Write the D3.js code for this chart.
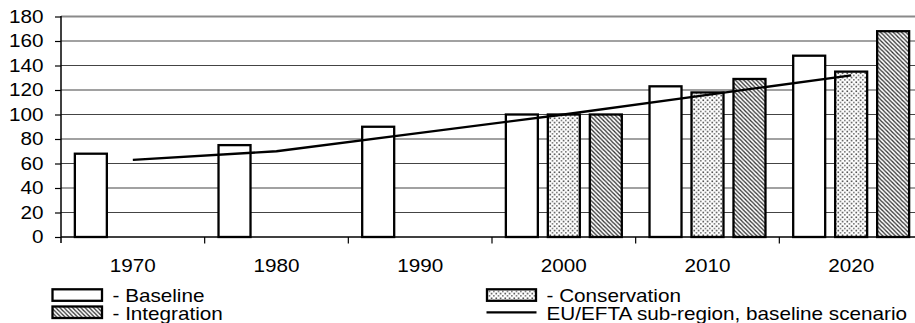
<!DOCTYPE html>
<html><head><meta charset="utf-8">
<script src="https://cdn.jsdelivr.net/npm/d3@7"></script>
<style>
html,body{margin:0;padding:0;background:#fff;overflow:hidden}
svg{display:block;font-family:"Liberation Sans",Arial,sans-serif}
</style></head>
<body><svg id="c" width="915" height="323"></svg>
<script>
const categories = ["1970","1980","1990","2000","2010","2020"];
const baseline = [68,75,90,100,123,148];
const conservation = [null,null,null,100,118,135];
const integration = [null,null,null,100,129,168];
const euLine = [63,70,85,100,116,132];
const yTicks = [0,20,40,60,80,100,120,140,160,180];
const seriesNames = ["Baseline","Conservation","Integration"];
const legendLabels = ["- Baseline","- Conservation","- Integration","EU/EFTA sub-region, baseline scenario"];

const svg = d3.select("#c");
const FS = 18, SX = 1.15;
function txt(x,y,s,anchor){
  const g = svg.append("g").attr("transform",`translate(${x},${y}) scale(${SX},1)`);
  g.append("text").attr("font-size",FS).attr("text-anchor",anchor||"start").attr("fill","#000").text(s);
}

const defs = svg.append("defs");
const pd = defs.append("pattern").attr("id","dots").attr("patternUnits","userSpaceOnUse")
  .attr("width",4.5).attr("height",4.5);
pd.append("rect").attr("width",4.5).attr("height",4.5).attr("fill","#fff");
pd.append("rect").attr("x",0.5).attr("y",0.5).attr("width",1.4).attr("height",1.4).attr("fill","#111");
pd.append("rect").attr("x",2.75).attr("y",2.75).attr("width",1.3).attr("height",1.3).attr("fill","#333");
const ph = defs.append("pattern").attr("id","hatch").attr("patternUnits","userSpaceOnUse")
  .attr("width",4.2).attr("height",4.2);
ph.append("rect").attr("width",4.2).attr("height",4.2).attr("fill","#fff");
ph.append("path").attr("d","M-1,-1 L5.2,5.2 M-1,3.2 L1,5.2 M3.2,-1 L5.2,1")
  .attr("stroke","#333").attr("stroke-width",1.3);

const x = d3.scaleBand().domain(categories).range([61,923]).padding(0);
const xs = d3.scaleBand().domain(seriesNames).range([0,x.bandwidth()]).paddingInner(0.238).paddingOuter(0.33);
const y = d3.scaleLinear().domain([0,180]).range([237,16.5]);

// gridlines
svg.append("g").selectAll("line").data(yTicks.filter(d=>d>0)).join("line")
  .attr("x1",61).attr("x2",923).attr("y1",d=>y(d)).attr("y2",d=>y(d))
  .attr("stroke",d=>d===180?"#8a8a8a":"#444").attr("stroke-width",d=>d===180?2.2:1.2);

// y axis
const ya = d3.axisLeft(y).tickValues(yTicks).tickSize(6).tickFormat(()=> "");
const yg = svg.append("g").attr("transform","translate(61,0)").call(ya);
yg.select(".domain").remove();
yg.selectAll("line").attr("stroke","#000").attr("stroke-width",1.2);
yTicks.forEach(v=>txt(43.5, y(v)+6.3, String(v), "end"));

// bars
const fills = {Baseline:"#fff",Conservation:"url(#dots)",Integration:"url(#hatch)"};
const data = {Baseline:baseline,Conservation:conservation,Integration:integration};
seriesNames.forEach(s=>{
  svg.append("g").selectAll("rect").data(categories.map((c,i)=>({c,v:data[s][i]})).filter(d=>d.v!=null))
    .join("rect")
    .attr("x",d=>x(d.c)+xs(s)).attr("width",xs.bandwidth())
    .attr("y",d=>y(d.v)).attr("height",d=>y(0)-y(d.v))
    .attr("fill",fills[s]).attr("stroke","#000").attr("stroke-width",2.3);
});

// x axis
svg.append("line").attr("x1",61).attr("x2",923).attr("y1",237).attr("y2",237).attr("stroke","#000").attr("stroke-width",1.5);
svg.append("line").attr("x1",61).attr("x2",61).attr("y1",16).attr("y2",243).attr("stroke","#000").attr("stroke-width",1.5);
svg.append("g").selectAll("line").data(categories.slice(1)).join("line")
  .attr("x1",d=>x(d)).attr("x2",d=>x(d)).attr("y1",237).attr("y2",243.5)
  .attr("stroke","#000").attr("stroke-width",1.2);
categories.forEach(c=>txt(x(c)+x.bandwidth()/2, 271.7, c, "middle"));

// line
const line = d3.line().x((d,i)=>x(categories[i])+x.bandwidth()/2).y(d=>y(d));
svg.append("path").datum(euLine).attr("d",line).attr("fill","none").attr("stroke","#000").attr("stroke-width",2.3);

// legend
svg.append("rect").attr("x",52.5).attr("y",289.3).attr("width",49.5).attr("height",11.5).attr("fill","#fff").attr("stroke","#000").attr("stroke-width",2.3);
svg.append("rect").attr("x",52.5).attr("y",306.5).attr("width",49.5).attr("height",11.5).attr("fill","url(#hatch)").attr("stroke","#000").attr("stroke-width",2.3);
svg.append("rect").attr("x",487).attr("y",289.3).attr("width",49).attr("height",11.5).attr("fill","url(#dots)").attr("stroke","#000").attr("stroke-width",2.3);
svg.append("line").attr("x1",486.5).attr("x2",536.5).attr("y1",312.3).attr("y2",312.3).attr("stroke","#000").attr("stroke-width",2.3);
txt(112.5, 302.3, legendLabels[0]);
txt(546.5, 302.3, legendLabels[1]);
txt(112.5, 319.7, legendLabels[2]);
txt(546.5, 319.7, legendLabels[3]);
</script></body></html>
